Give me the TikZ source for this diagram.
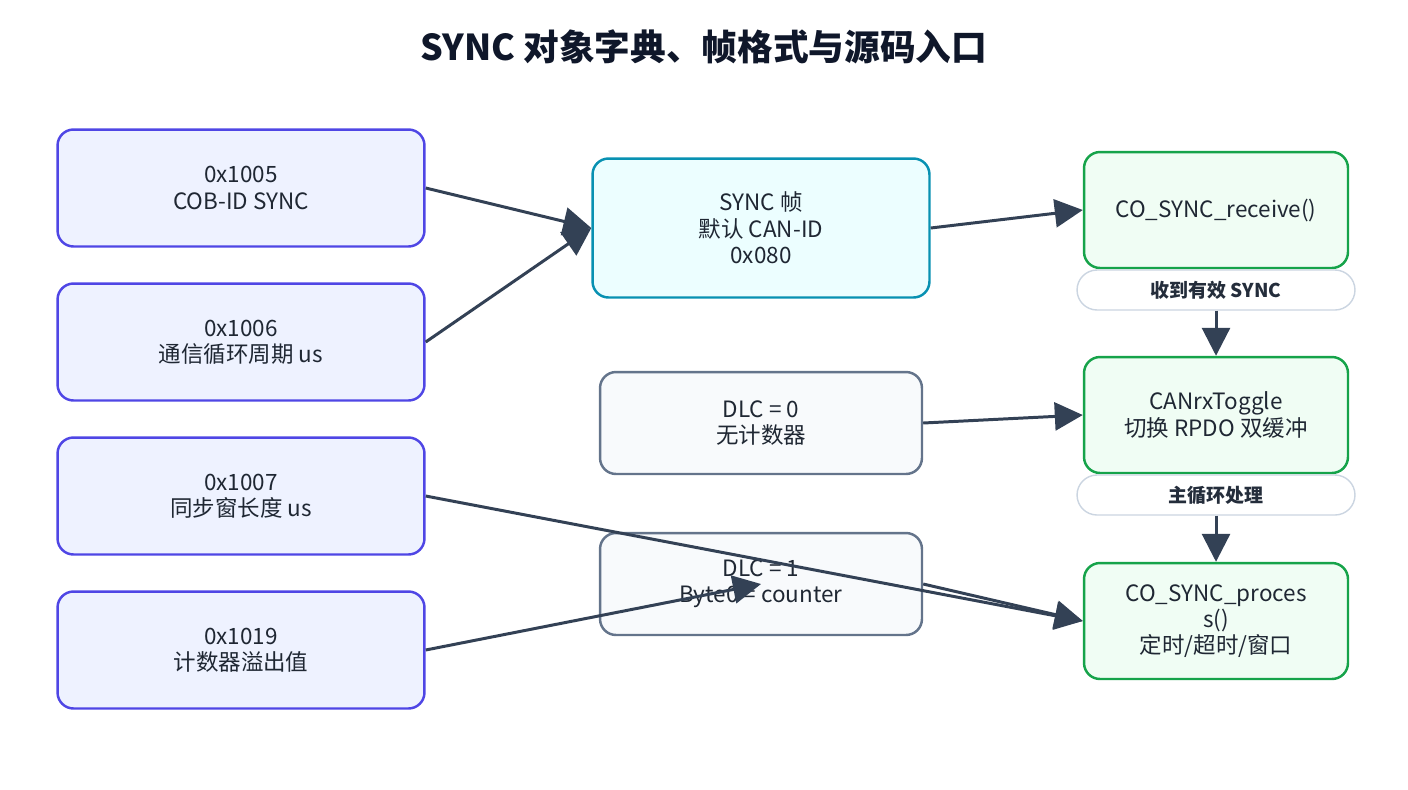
\documentclass[tikz,border=0pt]{standalone}
\usepackage{fontspec}
\setmainfont{Noto Sans CJK SC}
\usetikzlibrary{arrows.meta}

\definecolor{objfill}{HTML}{EEF2FF}
\definecolor{objline}{HTML}{4F46E5}
\definecolor{framefill}{HTML}{ECFEFF}
\definecolor{frameline}{HTML}{0891B2}
\definecolor{dlcfill}{HTML}{F8FAFC}
\definecolor{dlcline}{HTML}{64748B}
\definecolor{codefill}{HTML}{F0FDF4}
\definecolor{codeline}{HTML}{16A34A}
\definecolor{pillline}{HTML}{CBD5E1}
\definecolor{ink}{HTML}{334155}
\definecolor{titleink}{HTML}{0F172A}

\tikzset{
  box/.style={draw, line width=1.4pt, rounded corners=0.32cm, align=center,
    text=ink!60!black, font=\fontsize{12.8}{15}\selectfont},
  objbox/.style={box, fill=objfill, draw=objline, minimum width=7.34cm, minimum height=2.34cm},
  framebox/.style={box, fill=framefill, draw=frameline, minimum width=6.74cm, minimum height=2.78cm},
  dlcbox/.style={box, fill=dlcfill, draw=dlcline, minimum width=6.44cm, minimum height=2.04cm},
  codebox/.style={box, fill=codefill, draw=codeline, minimum width=5.28cm, minimum height=2.32cm},
  pill/.style={draw=pillline, fill=white, line width=0.8pt, rounded corners=0.4cm,
    minimum width=5.56cm, minimum height=0.8cm, text=ink!70!black,
    font=\fontsize{10.8}{12}\selectfont\bfseries},
  flow/.style={draw=ink, line width=1.7pt, -{Triangle[length=0.56cm,width=0.56cm]}}
}

\begin{document}
\begin{tikzpicture}[x=0.02cm,y=-0.02cm]
  \useasboundingbox (0,0) rectangle (1408,789);

  \node[text=titleink, font=\fontsize{20.3}{24}\selectfont\bfseries] (title) at (704,47) {SYNC 对象字典、帧格式与源码入口};

  % object dictionary entries
  \node[objbox] (o1005) at (241,188) {0x1005\\COB-ID SYNC};
  \node[objbox] (o1006) at (241,342) {0x1006\\通信循环周期 us};
  \node[objbox] (o1007) at (241,496) {0x1007\\同步窗长度 us};
  \node[objbox] (o1019) at (241,650) {0x1019\\计数器溢出值};

  % frame
  \node[framebox] (frame) at (761,228) {SYNC 帧\\默认 CAN-ID\\0x080};
  \node[dlcbox] (dlc0) at (761,423) {DLC = 0\\无计数器};
  \node[dlcbox] (dlc1) at (761,584) {DLC = 1\\Byte0 = counter};

  % source entry points
  \node[codebox] (recv) at (1216,210) {CO\_SYNC\_receive()};
  \node[codebox] (toggle) at (1216,415) {CANrxToggle\\切换 RPDO 双缓冲};
  \node[codebox] (proc) at (1216,621) {CO\_SYNC\_proces\\s()\\定时/超时/窗口};

  \node[pill] (valid) at (1216,290) {收到有效 SYNC};
  \node[pill] (loop) at (1216,495) {主循环处理};

  \draw (o1005.east) edge[flow] (frame.west);
  \draw (o1006.east) edge[flow] (frame.west);
  \draw (o1007.east) edge[flow] (proc.west);
  \draw (o1019.east) edge[flow] (dlc1.center);
  \draw (frame.east) edge[flow] (recv.west);
  \draw (dlc0.east) edge[flow] (toggle.west);
  \draw (dlc1.east) edge[flow] (proc.west);
  \draw (valid.south) edge[flow] (toggle.north);
  \draw (loop.south) edge[flow] (proc.north);
\end{tikzpicture}
\end{document}
